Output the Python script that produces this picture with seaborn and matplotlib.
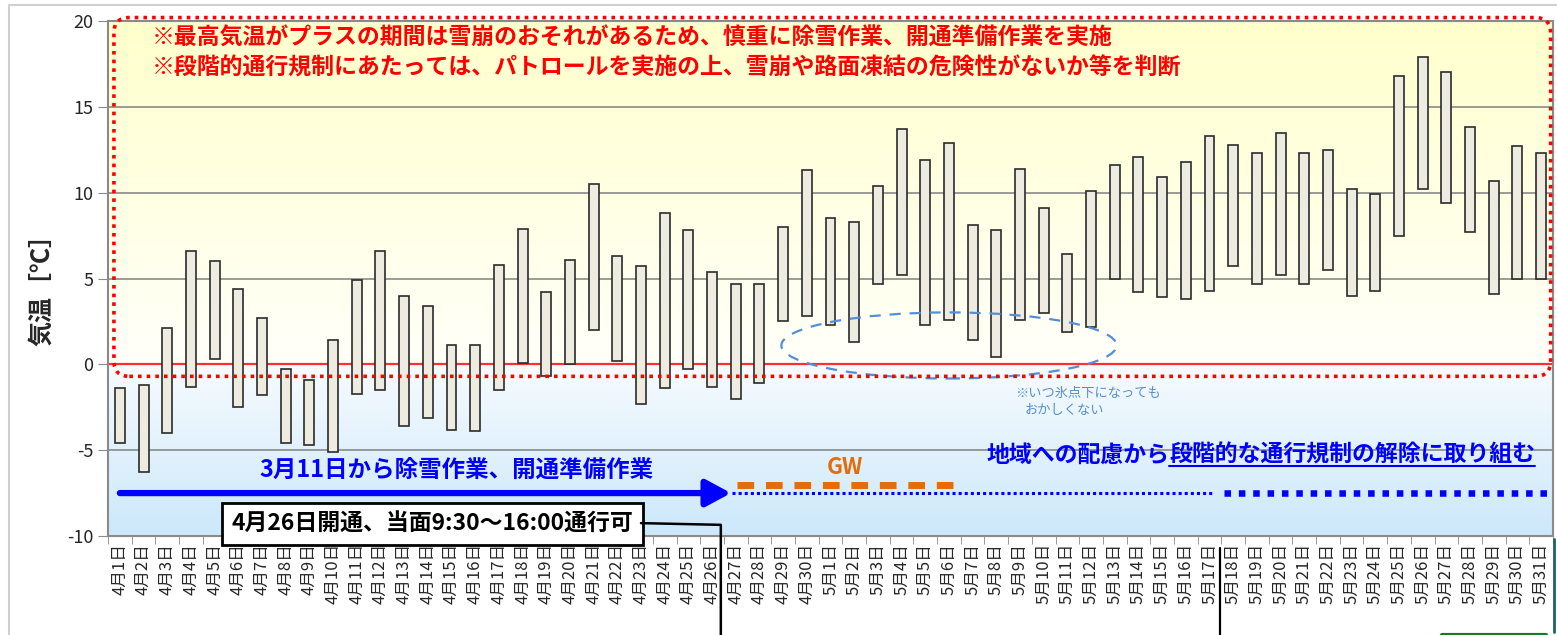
import numpy as np
import matplotlib
matplotlib.use("Agg")
import matplotlib.pyplot as plt
import seaborn as sns
from matplotlib.patches import FancyBboxPatch, Ellipse
from matplotlib.lines import Line2D

# データ (4月1日〜5月31日の最低・最高気温)
dates = [f"4月{d}日" for d in range(1, 31)] + [f"5月{d}日" for d in range(1, 32)]
t_low = [-4.6, -6.3, -4.0, -1.3, 0.3, -2.5, -1.8, -4.6, -4.7, -5.1,
         -1.7, -1.5, -3.6, -3.1, -3.8, -3.9, -1.5, 0.1, -0.7, 0.0,
         2.0, 0.2, -2.3, -1.4, -0.3, -1.3, -2.0, -1.1, 2.5, 2.8,
         2.3, 1.3, 4.7, 5.2, 2.3, 2.6, 1.4, 0.4, 2.6, 3.0,
         1.9, 2.2, 5.0, 4.2, 3.9, 3.8, 4.3, 5.7, 4.7, 5.2,
         4.7, 5.5, 4.0, 4.3, 7.5, 10.2, 9.4, 7.7, 4.1, 5.0, 5.0]
t_high = [-1.4, -1.2, 2.1, 6.6, 6.0, 4.4, 2.7, -0.3, -0.9, 1.4,
          4.9, 6.6, 4.0, 3.4, 1.1, 1.1, 5.8, 7.9, 4.2, 6.1,
          10.5, 6.3, 5.7, 8.8, 7.8, 5.4, 4.7, 4.7, 8.0, 11.3,
          8.5, 8.3, 10.4, 13.7, 11.9, 12.9, 8.1, 7.8, 11.4, 9.1,
          6.4, 10.1, 11.6, 12.1, 10.9, 11.8, 13.3, 12.8, 12.3, 13.5,
          12.3, 12.5, 10.2, 9.9, 16.8, 17.9, 17.0, 13.8, 10.7, 12.7, 12.3]
span = [h - l for h, l in zip(t_high, t_low)]

sns.set_style("white")
plt.rcParams['font.family'] = ['Noto Sans CJK JP', 'DejaVu Sans']
plt.rcParams['axes.unicode_minus'] = False

fig = plt.figure(figsize=(15.57, 6.35), dpi=100)
ax = fig.add_axes([108 / 1557, 99 / 635, 1445 / 1557, 515 / 635])

# 背景グラデーション (上: 黄, 下: 水色)
yy = np.linspace(1, 0, 300)
top = np.array([1.0, 1.0, 0.80])
white_y = np.array([1.0, 1.0, 0.98])
white_b = np.array([0.97, 0.985, 1.0])
bot = np.array([0.80, 0.91, 0.98])
grad = np.zeros((300, 1, 3))
for i, v in enumerate(yy):
    val = -10 + 30 * v
    if val >= 0:
        grad[i, 0] = white_y + (top - white_y) * (val / 20)
    else:
        grad[i, 0] = white_b + (bot - white_b) * (-val / 10)
ax.imshow(grad, extent=[-0.5, 60.5, -10, 20], aspect='auto', zorder=0, interpolation='bilinear')

# 棒 (最低〜最高)
sns.barplot(x=dates, y=span, color='#EEECE1', saturation=1, width=0.42,
            edgecolor='#2b2b2b', linewidth=1.2, ax=ax, zorder=3)
for p, lo in zip(ax.patches, t_low):
    p.set_y(lo)

ax.set_xlim(-0.5, 60.5)
ax.set_ylim(-10, 20)
ax.set_yticks(range(-10, 21, 5))
for v in range(-10, 21, 5):
    if v != 0:
        ax.axhline(v, color='#8a8a8a', lw=1.2, zorder=1)
ax.axhline(0, color='#ff3030', lw=1.6, zorder=2)

for s in ax.spines.values():
    s.set_color('#8a8a8a')
    s.set_linewidth(1.5)

ax.tick_params(axis='y', labelsize=13, length=7, color='#8a8a8a', direction='out', left=True)
ax.set_xticks(range(61))
ax.set_xticklabels(dates, rotation=90, fontsize=12)
ax.tick_params(axis='x', length=0, pad=5)
ax.set_xticks(np.arange(-0.5, 61, 1), minor=True)
ax.tick_params(axis='x', which='minor', length=6, color='#8a8a8a', direction='out', bottom=True)

ax.set_xlabel('')
ax.set_ylabel('気温［℃］', fontsize=18, fontweight='bold')
ax.yaxis.set_label_coords(-0.037, 0.49)

# 赤い点線の角丸枠
box = FancyBboxPatch((-0.25, -0.7), 60.65, 20.9,
                     boxstyle='round,pad=0,rounding_size=0.65', mutation_aspect=23.68 / 17.15,
                     fill=False, edgecolor='#ff0000', lw=2.6, linestyle=(0, (1, 1.4)),
                     clip_on=False, zorder=6)
ax.add_patch(box)

ax.text(1.35, 19.0, '※最高気温がプラスの期間は雪崩のおそれがあるため、慎重に除雪作業、開通準備作業を実施',
        color='#ff0000', fontsize=16.5, fontweight='bold', va='center', ha='left', zorder=7)
ax.text(1.35, 17.25, '※段階的通行規制にあたっては、パトロールを実施の上、雪崩や路面凍結の危険性がないか等を判断',
        color='#ff0000', fontsize=16.5, fontweight='bold', va='center', ha='left', zorder=7)

# 氷点下の注意 (青い破線楕円)
ell = Ellipse((35.0, 1.1), 14.15, 3.85, fill=False, edgecolor='#558ED5',
              lw=1.6, linestyle=(0, (5, 4)), zorder=5)
ax.add_patch(ell)
ax.text(37.8, -1.7, '※いつ氷点下になっても', color='#558ED5', fontsize=9.5, va='center', ha='left', zorder=7)
ax.text(38.2, -2.7, 'おかしくない', color='#558ED5', fontsize=9.5, va='center', ha='left', zorder=7)

# 除雪作業の矢印
ax.annotate('', xy=(25.8, -7.5), xytext=(0, -7.5),
            arrowprops=dict(arrowstyle='-|>,head_length=0.5,head_width=0.27', color='#0000ff',
                            lw=4.5, mutation_scale=30, shrinkA=0, shrinkB=0), zorder=6)
ax.text(14.2, -6.2, '3月11日から除雪作業、開通準備作業', color='#0000ff', fontsize=16.9,
        fontweight='bold', ha='center', va='center', zorder=7)

ax.plot([25.85, 46.2], [-7.5, -7.5], color='#0000ff', lw=2.2, linestyle=(0, (1, 1)), zorder=6)
ax.plot([46.6, 60.5], [-7.5, -7.5], color='#0000ff', lw=4.7, linestyle=(0, (1, 1.2)), zorder=6,
        clip_on=False)

# GW
ax.plot([26.05, 35.55], [-7.05, -7.05], color='#E46C0A', lw=5, linestyle=(0, (2.4, 1.7)), zorder=6)
ax.text(30.6, -6.0, 'GW', color='#E46C0A', fontsize=16, fontweight='bold', ha='center', va='center', zorder=7)

# 段階的な規制解除
t1 = ax.text(44.3, -5.3, '地域への配慮から', color='#0000ff', fontsize=16.5, fontweight='bold',
             ha='right', va='center', zorder=7)
t2 = ax.text(44.3, -5.3, '段階的な通行規制の解除に取り組む', color='#0000ff', fontsize=16.5,
             fontweight='bold', ha='left', va='center', zorder=7)

# 開通日の吹き出し
ax.text(13.2, -9.3, '4月26日開通、当面9:30〜16:00通行可', color='black', fontsize=16.5,
        fontweight='bold', ha='center', va='center', zorder=8, clip_on=False,
        bbox=dict(boxstyle='square,pad=0.42', fc='white', ec='black', lw=2))
ax.plot([22.0, 25.37, 25.37], [-9.25, -9.35, -15.8], color='black', lw=1.8, clip_on=False, zorder=8)

# 下側の切れた図形
ax.plot([46.45, 46.45], [-10.7, -15.8], color='black', lw=1.6, clip_on=False, zorder=8)
ax.plot([60.55, 60.55], [-10.2, -15.6], color='#1f5f6f', lw=2, clip_on=False, zorder=8)
ax.plot([55.8, 60.2], [-15.75, -15.75], color='#1a7a2a', lw=3, clip_on=False, zorder=8)

# 外枠
fig.add_artist(Line2D([9 / 1557, 9 / 1557, 1], [0, 1 - 5 / 635, 1 - 5 / 635],
                      transform=fig.transFigure, color='#d0d0d0', lw=1.5))

# 下線
fig.canvas.draw()
bb = t2.get_window_extent()
inv = fig.transFigure.inverted()
(x0, y0), (x1, y1) = inv.transform([(bb.x0, bb.y0), (bb.x1, bb.y0)])
fig.add_artist(Line2D([x0, x1], [y0 + 1 / 635, y1 + 1 / 635], transform=fig.transFigure,
                      color='#0000ff', lw=1.5, zorder=9))

fig.savefig('out.png', dpi=100)
